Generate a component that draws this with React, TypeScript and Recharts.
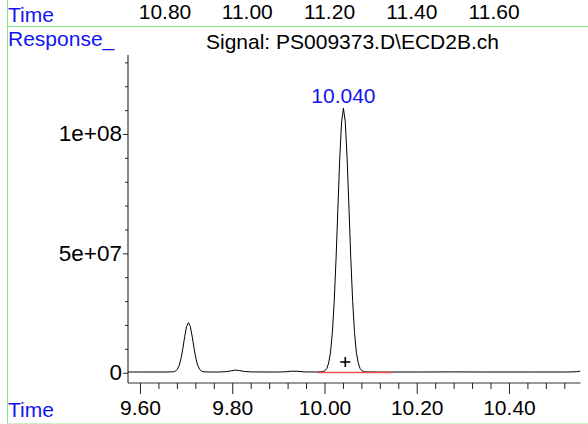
import React from "react";
import { LineChart, Line, XAxis, YAxis, ReferenceDot } from "recharts";

// retention time (min) and detector response
const TIME = [
  9.573, 9.6, 9.64, 9.66, 9.672, 9.676, 9.68, 9.684, 9.688, 9.692, 9.696, 9.7,
  9.704, 9.708, 9.712, 9.716, 9.72, 9.724, 9.728, 9.732, 9.736, 9.75, 9.77,
  9.785, 9.795, 9.805, 9.815, 9.825, 9.84, 9.87, 9.9, 9.915, 9.928, 9.94, 9.955,
  9.98, 9.992, 9.996, 10.0, 10.004, 10.008, 10.012, 10.016, 10.02, 10.024,
  10.028, 10.032, 10.036, 10.04, 10.044, 10.048, 10.052, 10.056, 10.06, 10.064,
  10.068, 10.072, 10.076, 10.08, 10.084, 10.09, 10.12, 10.2, 10.28, 10.35,
  10.45, 10.52, 10.545, 10.554,
];
const RESPONSE = [
  0.5e6, 0.5e6, 0.5e6, 0.52e6, 0.6e6, 0.9e6, 1.7e6, 3.3e6, 6.2e6, 10.6e6,
  15.5e6, 19.6e6, 21.2e6, 19.6e6, 15.5e6, 10.6e6, 6.2e6, 3.3e6, 1.7e6, 0.9e6,
  0.6e6, 0.5e6, 0.5e6, 0.65e6, 0.95e6, 1.3e6, 1.1e6, 0.75e6, 0.55e6, 0.5e6,
  0.5e6, 0.6e6, 0.85e6, 0.8e6, 0.55e6, 0.5e6, 0.6e6, 0.7e6, 1.05e6, 2.0e6,
  4.3e6, 8.8e6, 17.0e6, 30.0e6, 47.9e6, 69.1e6, 89.9e6, 105.3e6, 111.0e6,
  105.3e6, 89.9e6, 69.1e6, 47.9e6, 30.0e6, 17.0e6, 8.8e6, 4.3e6, 2.0e6,
  1.05e6, 0.7e6, 0.55e6, 0.5e6, 0.5e6, 0.55e6, 0.5e6, 0.5e6, 0.5e6, 0.6e6,
  0.9e6,
];

// integration baseline under the main peak
const BASE_TIME = [9.983, 10.146];
const BASE_RESPONSE = [0.3e6, 0.3e6];

const PEAK_TIME = 10.04;
const PEAK_RESPONSE = 111.0e6;
const PEAK_LABEL = "10.040";
const MARK_TIME = 10.044;
const MARK_RESPONSE = 4.7e6;

const X_TICKS = [
  9.6, 9.64, 9.68, 9.72, 9.76, 9.8, 9.84, 9.88, 9.92, 9.96, 10.0, 10.04, 10.08,
  10.12, 10.16, 10.2, 10.24, 10.28, 10.32, 10.36, 10.4, 10.44, 10.48, 10.52,
];
const X_LABELS = [9.6, 9.8, 10.0, 10.2, 10.4];
const Y_TICKS = [
  0, 1e7, 2e7, 3e7, 4e7, 5e7, 6e7, 7e7, 8e7, 9e7, 1e8, 1.1e8, 1.2e8, 1.3e8,
];
const Y_LABELS: Record<string, string> = { "0": "0", "50000000": "5e+07", "100000000": "1e+08" };
// time scale of the panel above (only its labels are in view)
const TOP_TICKS = [10.8, 11.0, 11.2, 11.4, 11.6];

const FONT = "'Liberation Sans', Arial, sans-serif";
const BLUE = "#1414f0";
const GREEN = "#86e886";

const data = TIME.map((t, i) => ({ t, r: RESPONSE[i] }));
const baseData = BASE_TIME.map((t, i) => ({ t, r: BASE_RESPONSE[i] }));
const topData = TOP_TICKS.map((t) => ({ t, r: null }));

const isXLabel = (v: number) => X_LABELS.some((l) => Math.abs(l - v) < 1e-6);

const BottomTick = (props: any) => {
  const { x, y, payload } = props;
  const major = isXLabel(payload.value);
  return (
    <g>
      <line x1={x} x2={x} y1={y} y2={y + (major ? 11 : 6)} stroke="#222" />
      {major && (
        <text x={x} y={y + 32} textAnchor="middle" fontSize={21} fontFamily={FONT} fill="#000">
          {payload.value.toFixed(2)}
        </text>
      )}
    </g>
  );
};

const LeftTick = (props: any) => {
  const { x, y, payload } = props;
  const label = Y_LABELS[String(payload.value)];
  return (
    <g>
      <line x1={x - (label ? 5 : 3)} x2={x} y1={y} y2={y} stroke="#222" />
      {label && (
        <text x={x - 6} y={y + 7} textAnchor="end" fontSize={22.5} fontFamily={FONT} fill="#000">
          {label}
        </text>
      )}
    </g>
  );
};

const TopTick = (props: any) => {
  const { x, payload } = props;
  return (
    <text x={x} y={19} textAnchor="middle" fontSize={21} fontFamily={FONT} fill="#000">
      {payload.value.toFixed(2)}
    </text>
  );
};

const Plus = (props: any) => {
  const { cx, cy } = props;
  return (
    <g stroke="#000" strokeWidth={1.6}>
      <line x1={cx - 5} x2={cx + 5} y1={cy} y2={cy} />
      <line x1={cx} x2={cx} y1={cy - 5} y2={cy + 5} />
    </g>
  );
};

export default function App() {
  return (
    <div style={{ position: "relative", width: 588, height: 424, background: "#fff" }}>
      <style>{"body{margin:0}"}</style>
      <LineChart
        width={588}
        height={424}
        data={data}
        margin={{ top: 0, right: 7.5, bottom: 0, left: 0 }}
      >
        <XAxis
          xAxisId="top"
          orientation="top"
          dataKey="t"
          type="number"
          domain={[10.71, 11.81]}
          allowDataOverflow
          ticks={TOP_TICKS}
          interval={0}
          height={55}
          axisLine={false}
          tickLine={false}
          tickSize={0}
          tickMargin={0}
          tick={<TopTick />}
        />
        <XAxis
          dataKey="t"
          type="number"
          domain={[9.5729, 10.554]}
          allowDataOverflow
          ticks={X_TICKS}
          interval={0}
          height={41}
          axisLine={{ stroke: "#333" }}
          tickLine={false}
          tickSize={0}
          tickMargin={0}
          tick={<BottomTick />}
        />
        <YAxis
          type="number"
          domain={[-4.1e6, 1.333e8]}
          allowDataOverflow
          ticks={Y_TICKS}
          interval={0}
          width={128}
          axisLine={{ stroke: "#111" }}
          tickLine={false}
          tickSize={0}
          tickMargin={0}
          tick={<LeftTick />}
        />
        <Line
          xAxisId="top"
          data={topData}
          dataKey="r"
          stroke="none"
          dot={false}
          legendType="none"
          isAnimationActive={false}
        />
        <Line
          dataKey="r"
          type="linear"
          stroke="#000"
          strokeWidth={1}
          dot={false}
          isAnimationActive={false}
        />
        <Line
          data={baseData}
          dataKey="r"
          type="linear"
          stroke="#f05050"
          strokeWidth={1.5}
          dot={false}
          isAnimationActive={false}
        />
        <ReferenceDot
          x={PEAK_TIME}
          y={PEAK_RESPONSE}
          r={0}
          stroke="none"
          label={{ value: PEAK_LABEL, position: "top", offset: 5, fill: BLUE, fontSize: 21, fontFamily: FONT }}
        />
        <ReferenceDot x={MARK_TIME} y={MARK_RESPONSE} shape={<Plus />} />
      </LineChart>
      <svg
        width={588}
        height={424}
        style={{ position: "absolute", left: 0, top: 0, pointerEvents: "none" }}
        fontFamily={FONT}
        fontSize={21}
      >
        <line x1={7.5} x2={7.5} y1={0} y2={424} stroke={GREEN} />
        <line x1={7} x2={588} y1={26.5} y2={26.5} stroke={GREEN} />
        <line x1={7} x2={588} y1={423.5} y2={423.5} stroke="#c8f4c8" />
        <text x={8} y={22} fill={BLUE}>Time</text>
        <text x={8} y={46} fill={BLUE}>Response_</text>
        <text x={352.5} y={49} textAnchor="middle" fill="#000">
          Signal: PS009373.D\ECD2B.ch
        </text>
        <text x={8} y={417} fill={BLUE}>Time</text>
      </svg>
    </div>
  );
}
